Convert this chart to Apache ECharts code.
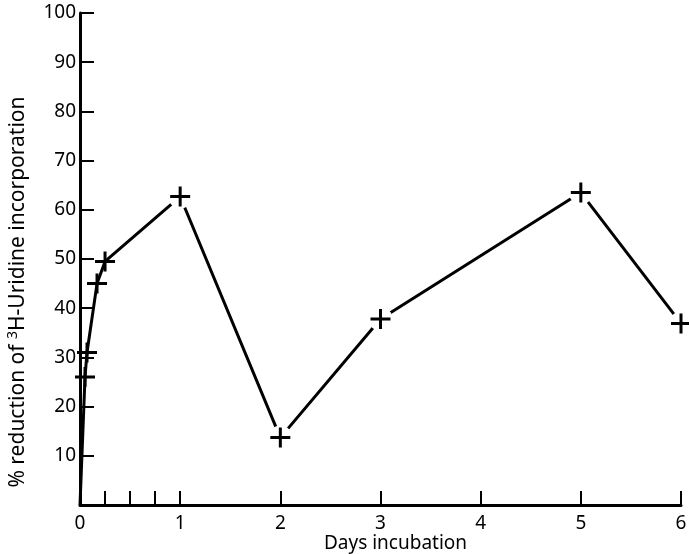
<!DOCTYPE html>
<html>
<head>
<meta charset="utf-8">
<script src="https://cdn.jsdelivr.net/npm/echarts@6/dist/echarts.min.js"></script>
<style>html,body{margin:0;padding:0;background:#fff;}#c{width:689px;height:554px;}</style>
</head>
<body>
<div id="c"></div>
<script>
var days = [0, 0.05, 0.07, 0.17, 0.25, 1, 2, 3, 5, 6];
var reduction = [0, 26, 31, 45, 49.5, 62.7, 13.7, 37.8, 63.5, 36.9];
var xTickValues = [0.25, 0.5, 0.75, 1, 2, 3, 4, 5, 6];
var xLabelValues = [0, 1, 2, 3, 4, 5, 6];
var yLabels = [10, 20, 30, 40, 50, 60, 70, 80, 90, 100];

var FONT = 'Noto Sans';
var linePts = days.map(function (d, i) { return [d, reduction[i]]; });
var markPts = linePts.slice(1);
var gapPts = linePts.filter(function (p) { return p[0] >= 1; });
var plus = 'path://M8.5,0H11.5V8.5H20V11.5H11.5V20H8.5V11.5H0V8.5H8.5Z';

var chart = echarts.init(document.getElementById('c'));
chart.setOption({
  animation: false,
  backgroundColor: '#fff',
  grid: { left: 80, right: 8, top: 13, bottom: 49, outerBoundsMode: 'none', containLabel: false },
  xAxis: {
    type: 'value', min: 0, max: 6, interval: 1,
    name: 'Days incubation', nameLocation: 'middle', nameGap: 29, nameMoveOverlap: false,
    nameTextStyle: { fontFamily: FONT, fontSize: 19, color: '#000', padding: [0, 0, 0, 30] },
    axisLine: { lineStyle: { color: '#000', width: 3 } },
    axisTick: { inside: true, length: 14, lineStyle: { color: '#000', width: 2 }, customValues: xTickValues },
    axisLabel: { fontFamily: FONT, fontSize: 19, color: '#000', margin: 9, customValues: xLabelValues, showMaxLabel: true },
    splitLine: { show: false }
  },
  yAxis: {
    type: 'value', min: 0, max: 100, interval: 10,
    name: '% reduction of {sup|3}H-Uridine incorporation', nameLocation: 'middle', nameGap: 50, nameMoveOverlap: false,
    nameTextStyle: {
      fontFamily: FONT, fontSize: 21, color: '#000', padding: [0, 66, 0, 0],
      rich: { sup: { fontFamily: FONT, fontSize: 14, color: '#000', verticalAlign: 'top', padding: [0, 0, 10, 0] } }
    },
    axisLine: { lineStyle: { color: '#000', width: 3 } },
    axisTick: { inside: true, length: 14, lineStyle: { color: '#000', width: 2 }, customValues: yLabels },
    axisLabel: { fontFamily: FONT, fontSize: 19, color: '#000', margin: 4, customValues: yLabels },
    splitLine: { show: false }
  },
  series: [
    { type: 'line', data: linePts, showSymbol: false, symbol: 'none', clip: false, z: 1,
      lineStyle: { color: '#000', width: 3 } },
    { type: 'scatter', data: gapPts, symbol: 'circle', symbolSize: 24, clip: false, z: 5,
      itemStyle: { color: '#fff', opacity: 1 } },
    { type: 'scatter', data: markPts, symbol: plus, symbolSize: 20, clip: false, z: 6,
      itemStyle: { color: '#000', opacity: 1 } }
  ]
});
</script>
</body>
</html>
